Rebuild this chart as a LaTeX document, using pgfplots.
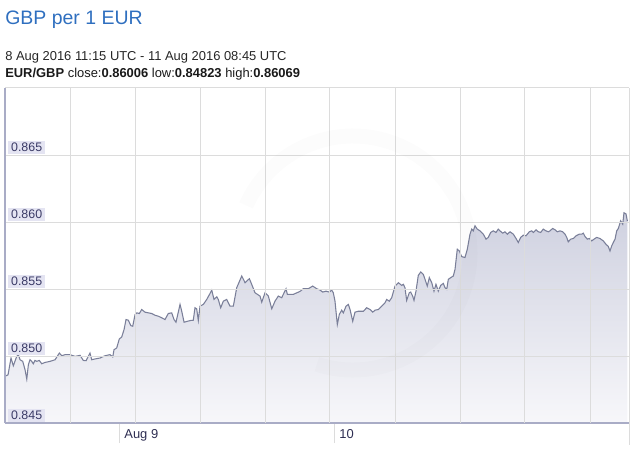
\documentclass[border=0pt]{standalone}
\usepackage{fontspec}
\setmainfont{Liberation Sans}
\usepackage{pgfplots}
\pgfplotsset{compat=1.18}
\usepackage{pgfplotstable}
\definecolor{titleblue}{HTML}{2F6FBF}
\definecolor{linec}{HTML}{7A7F99}
\definecolor{fillTop}{HTML}{CFD1E0}
\definecolor{fillBot}{HTML}{F7F7FA}
\definecolor{gridc}{HTML}{DCDCDC}
\definecolor{axisc}{HTML}{A9ACC6}
\definecolor{labbg}{HTML}{E4E4F2}
\definecolor{labtxt}{HTML}{3A3A66}
% hours since 8 Aug 2016 00:00 UTC, EUR/GBP rate
\pgfplotstableread{
h v
11.39 0.84852
11.61 0.84860
11.94 0.84985
12.20 0.84927
12.58 0.84997
12.76 0.85010
12.95 0.84972
13.25 0.84960
13.51 0.84897
13.70 0.84828
13.88 0.84935
14.06 0.84972
14.25 0.84960
14.43 0.84942
14.62 0.84967
14.81 0.84960
15.10 0.84967
15.37 0.84942
15.74 0.84952
16.30 0.84960
16.86 0.84972
17.34 0.85022
17.60 0.85002
17.97 0.85010
18.53 0.85010
19.09 0.84997
19.65 0.85005
20.01 0.84967
20.32 0.84965
20.57 0.84997
20.76 0.85022
20.95 0.84972
21.32 0.84978
21.88 0.84985
22.44 0.85002
22.99 0.85010
23.30 0.84993
23.44 0.85047
23.74 0.85060
24.03 0.85127
24.30 0.85142
24.56 0.85197
24.78 0.85272
25.04 0.85267
25.31 0.85227
25.53 0.85222
25.79 0.85310
25.98 0.85322
26.27 0.85317
26.53 0.85347
26.90 0.85327
27.27 0.85322
27.65 0.85317
28.02 0.85304
28.39 0.85297
28.77 0.85285
29.13 0.85272
29.50 0.85317
29.88 0.85322
30.14 0.85272
30.36 0.85252
30.81 0.85385
31.00 0.85334
31.26 0.85252
31.62 0.85259
32.00 0.85265
32.29 0.85267
32.48 0.85360
32.67 0.85352
32.85 0.85265
33.04 0.85372
33.41 0.85385
33.79 0.85422
34.16 0.85467
34.35 0.85492
34.60 0.85422
34.91 0.85442
35.08 0.85422
35.35 0.85360
35.64 0.85409
36.02 0.85422
36.39 0.85372
36.76 0.85372
37.14 0.85510
37.70 0.85597
38.07 0.85547
38.55 0.85577
38.81 0.85535
39.18 0.85472
39.74 0.85447
39.93 0.85402
40.30 0.85472
40.67 0.85447
41.05 0.85352
41.41 0.85409
41.78 0.85447
42.16 0.85435
42.64 0.85502
42.79 0.85460
43.46 0.85460
44.20 0.85482
44.57 0.85502
45.13 0.85502
45.62 0.85522
46.07 0.85502
46.44 0.85492
46.74 0.85477
47.11 0.85484
47.48 0.85477
47.74 0.85492
47.92 0.85472
48.11 0.85409
48.37 0.85235
48.59 0.85310
48.86 0.85342
49.04 0.85322
49.34 0.85372
49.60 0.85385
49.79 0.85347
50.09 0.85259
50.34 0.85327
50.71 0.85334
51.27 0.85334
51.65 0.85360
52.02 0.85347
52.32 0.85327
52.58 0.85342
52.95 0.85347
53.32 0.85372
53.69 0.85397
53.88 0.85422
54.17 0.85409
54.44 0.85435
54.81 0.85522
55.18 0.85547
55.56 0.85527
55.74 0.85535
55.92 0.85510
56.11 0.85415
56.40 0.85472
56.56 0.85477
56.78 0.85447
56.93 0.85415
57.15 0.85484
57.41 0.85602
57.68 0.85627
57.97 0.85609
58.16 0.85572
58.41 0.85522
58.64 0.85585
58.91 0.85547
59.16 0.85484
59.38 0.85535
59.64 0.85484
59.91 0.85527
60.20 0.85542
60.39 0.85510
60.58 0.85497
60.76 0.85572
61.03 0.85585
61.32 0.85597
61.51 0.85647
61.76 0.85797
61.99 0.85784
62.25 0.85742
62.62 0.85735
62.88 0.85797
63.18 0.85909
63.37 0.85947
63.55 0.85934
63.74 0.85972
63.99 0.85947
64.30 0.85934
64.67 0.85909
64.97 0.85872
65.22 0.85885
65.49 0.85922
65.78 0.85934
66.08 0.85922
66.34 0.85947
66.53 0.85934
66.83 0.85917
67.09 0.85927
67.35 0.85909
67.65 0.85927
68.02 0.85909
68.32 0.85877
68.57 0.85847
68.84 0.85885
69.13 0.85902
69.43 0.85897
69.80 0.85927
70.07 0.85934
70.25 0.85922
70.55 0.85942
70.81 0.85927
71.07 0.85922
71.36 0.85947
71.66 0.85934
71.92 0.85927
72.11 0.85934
72.41 0.85952
72.67 0.85942
72.93 0.85927
73.23 0.85934
73.53 0.85927
73.79 0.85909
73.98 0.85885
74.15 0.85852
74.42 0.85872
74.71 0.85877
75.01 0.85897
75.38 0.85909
75.65 0.85909
75.83 0.85917
76.02 0.85892
76.28 0.85872
76.50 0.85877
76.77 0.85859
77.02 0.85872
77.32 0.85885
77.69 0.85877
78.06 0.85859
78.36 0.85834
78.62 0.85817
78.81 0.85784
79.00 0.85822
79.18 0.85847
79.37 0.85872
79.56 0.85934
79.74 0.85952
80.00 0.86009
80.23 0.85984
80.37 0.86069
80.60 0.86060
80.75 0.86006
}\ratetable
\begin{document}
\begin{tikzpicture}
\useasboundingbox (0pt,0pt) rectangle (474.75pt,-339.75pt);
\node[anchor=base west, inner sep=0, text=titleblue, font=\fontsize{14.6}{16}\selectfont] at (3.75pt,-18.75pt) {GBP per 1 EUR};
\node[anchor=base west, inner sep=0, text=black!85, font=\fontsize{9.7}{11}\selectfont] at (3.75pt,-45.75pt) {8 Aug 2016 11:15 UTC - 11 Aug 2016 08:45 UTC};
\node[anchor=base west, inner sep=0, text=black!90, font=\fontsize{9.7}{11}\selectfont] at (3.75pt,-58.1pt) {\textbf{EUR/GBP} close:\textbf{0.86006} low:\textbf{0.84823} high:\textbf{0.86069}};
\begin{axis}[
  at={(3.75pt,-317.25pt)}, anchor=south west,
  scale only axis, width=468pt, height=251.25pt,
  xmin=11.27, xmax=80.93, ymin=0.845, ymax=0.870,
  axis on top,
  axis x line*=bottom, axis y line*=left,
  axis line style={-, draw=axisc, line width=0.8pt},
  ytick={0.845,0.850,0.855,0.860,0.865},
  ymajorgrids,
  grid style={draw=gridc, line width=0.75pt},
  ytick style={draw=none},
  yticklabel style={anchor=south west, fill=labbg, text=labtxt, inner xsep=2.2pt, inner ysep=1.6pt, font=\fontsize{9.3}{10}\selectfont, xshift=17.2pt, yshift=0.6pt},
  yticklabel={\pgfmathprintnumber[fixed, fixed zerofill, precision=3, assume math mode=true]{\tick}},
  xtick={24,48}, xticklabels={Aug 9,10},
  tick align=outside, major tick length=15pt,
  xtick style={draw=gridc, line width=0.75pt},
  xticklabel style={anchor=north west, text=labtxt!80!black, font=\fontsize{9.7}{11}\selectfont, xshift=0.5pt, yshift=13.5pt},
  extra x ticks={18.53,25.79,33.04,40.30,47.55,54.81,62.07,69.32,76.58},
  extra x tick labels={},
  extra x tick style={grid=major, major tick length=0pt},
]
\addplot[top color=fillTop, bottom color=fillBot, draw=none, forget plot] table[x=h,y=v]{\ratetable} -- (axis cs:80.75,0.845) -- (axis cs:11.39,0.845) -- cycle;
\addplot[draw=linec, line width=0.8pt, mark=none] table[x=h,y=v]{\ratetable};
\end{axis}
% faint watermark ring
\draw[draw=black, draw opacity=0.012, line width=11.25pt] (264.75pt,-189.75pt) ++(-108:87.75pt) arc[start angle=-108, end angle=156, radius=87.75pt];
\draw[gridc, line width=0.75pt] (3.75pt,-66pt) -- (471.75pt,-66pt);
\draw[gridc, line width=0.75pt] (471.75pt,-66pt) -- (471.75pt,-333.75pt);
\end{tikzpicture}
\end{document}
